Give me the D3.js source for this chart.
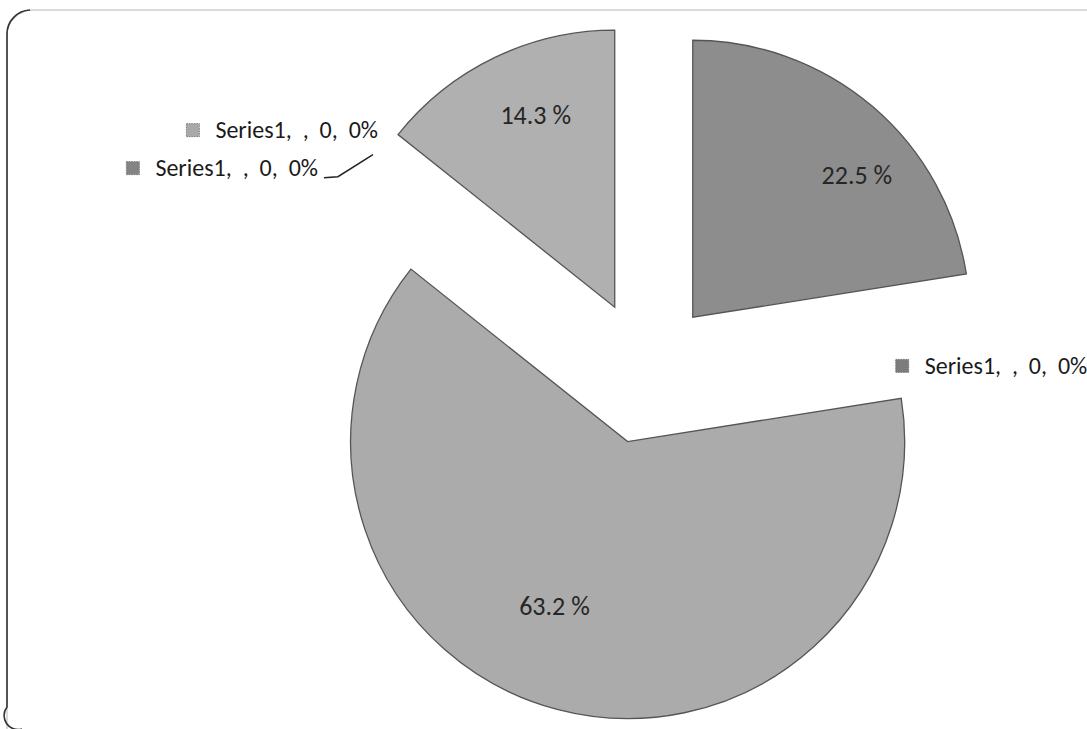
<!DOCTYPE html>
<html>
<head>
<meta charset="utf-8">
<script src="https://cdn.jsdelivr.net/npm/d3@7"></script>
<style>
  body { margin: 0; background: #fff; }
  svg { display: block; }
</style>
</head>
<body>
<div class="canvas"></div>
<script>
// data, in drawing order from 12 o'clock, clockwise
const seriesName = "Series1";
const categories = ["A", "", "B", "", "", "C"];
const values = [22.5, 0, 63.2, 0, 0, 14.3];
const sliceColours = ["#8d8d8d", "#7c7c7c", "#ababab", "#a9a9a9", "#848484", "#b0b0b0"];

// layout
const width = 1087, height = 729;
const cx = 646, cy = 372, radius = 277, explode = 72;
const pctRadius = 0.74;
// nudges for the labels, [dx, dy] in px
const pctNudge = [[31, 14], null, [-21, -34], null, null, [10, -8]];
const zeroNudge = [null, [-95, 48], null, [5, -25], [-55, 13], null];
const leader = [false, false, false, false, true, false];

const labelFont = 'Carlito, Calibri, Lato, sans-serif';

const svg = d3.select('.canvas')
  .append('svg')
  .attr('width', width)
  .attr('height', height);

// chart frame, rounded corner on the left
svg.append('rect')
  .attr('x', 7).attr('y', 10)
  .attr('width', width + 40).attr('height', height + 20)
  .attr('rx', 26)
  .attr('fill', 'none')
  .attr('stroke', '#b5b5b5')
  .attr('stroke-width', 1);
svg.append('path')
  .attr('d', `M 30 10 A 24 24 0 0 0 7 34 L 7 ${height - 22} A 14 14 0 0 0 22 ${height}`)
  .attr('fill', 'none')
  .attr('stroke', '#333')
  .attr('stroke-width', 1.6);

const pie = d3.pie().sort(null).value(d => d);
const arcs = pie(values);
const arc = d3.arc().innerRadius(0).outerRadius(radius);
const labelArc = d3.arc().innerRadius(radius * pctRadius).outerRadius(radius * pctRadius);

const graph = svg.append('g')
  .attr('transform', `translate(${cx}, ${cy})`);

const midAngle = d => (d.startAngle + d.endAngle) / 2;
const offset = d => [explode * Math.sin(midAngle(d)), -explode * Math.cos(midAngle(d))];

const slices = graph.selectAll('.slice')
  .data(arcs)
  .enter()
  .append('g')
  .attr('class', 'slice')
  .attr('transform', d => `translate(${offset(d)[0]}, ${offset(d)[1]})`);

slices.filter(d => d.value > 0)
  .append('path')
  .attr('d', arc)
  .attr('fill', d => sliceColours[d.index])
  .attr('stroke', '#555')
  .attr('stroke-width', 1.3);

// percentage labels inside
slices.filter(d => d.value > 0)
  .append('text')
  .attr('x', d => labelArc.centroid(d)[0] + pctNudge[d.index][0])
  .attr('y', d => labelArc.centroid(d)[1] + pctNudge[d.index][1])
  .attr('text-anchor', 'middle')
  .attr('dominant-baseline', 'central')
  .attr('font-family', labelFont)
  .attr('font-size', 26)
  .attr('fill', '#262626')
  .text(d => d3.format('.1f')(d.value) + ' %');

// labels for the empty points
const fmtPct = d3.format('.0%');
const total = d3.sum(values);
const zeros = arcs.filter(d => d.value === 0);

zeros.forEach(d => {
  const [ox, oy] = offset(d);
  const ax = ox + radius * Math.sin(d.startAngle);
  const ay = oy - radius * Math.cos(d.startAngle);
  const [nx, ny] = zeroNudge[d.index];
  const lx = ax + nx, ly = ay + ny;
  const rightSide = Math.sin(d.startAngle) > 0;

  const lab = graph.append('g')
    .attr('transform', `translate(${lx}, ${ly})`);

  const txt = lab.append('text')
    .attr('x', rightSide ? 29 : 0)
    .attr('y', 0)
    .attr('text-anchor', rightSide ? 'start' : 'end')
    .attr('dominant-baseline', 'central')
    .attr('font-family', labelFont)
    .attr('font-size', 24)
    .attr('word-spacing', 5.5)
    .attr('fill', '#1a1a1a')
    .text(`${seriesName}, ${categories[d.index]}, ${d.value}, ${fmtPct(d.value / total)}`);

  const bb = txt.node().getBBox();
  lab.append('rect')
    .attr('x', bb.x - 29).attr('y', -6)
    .attr('width', 13).attr('height', 13)
    .attr('fill', sliceColours[d.index])
    .attr('stroke', '#666')
    .attr('stroke-width', 0.8)
    .attr('stroke-dasharray', '1.5 1');

  // leader line for the label that sits farther away
  if (leader[d.index]) {
    graph.append('path')
      .attr('d', `M ${lx + 6} ${ly + 10} L ${lx + 20} ${ly + 9} L ${ax} ${ay}`)
      .attr('fill', 'none')
      .attr('stroke', '#222')
      .attr('stroke-width', 1.5);
  }
});
</script>
</body>
</html>
